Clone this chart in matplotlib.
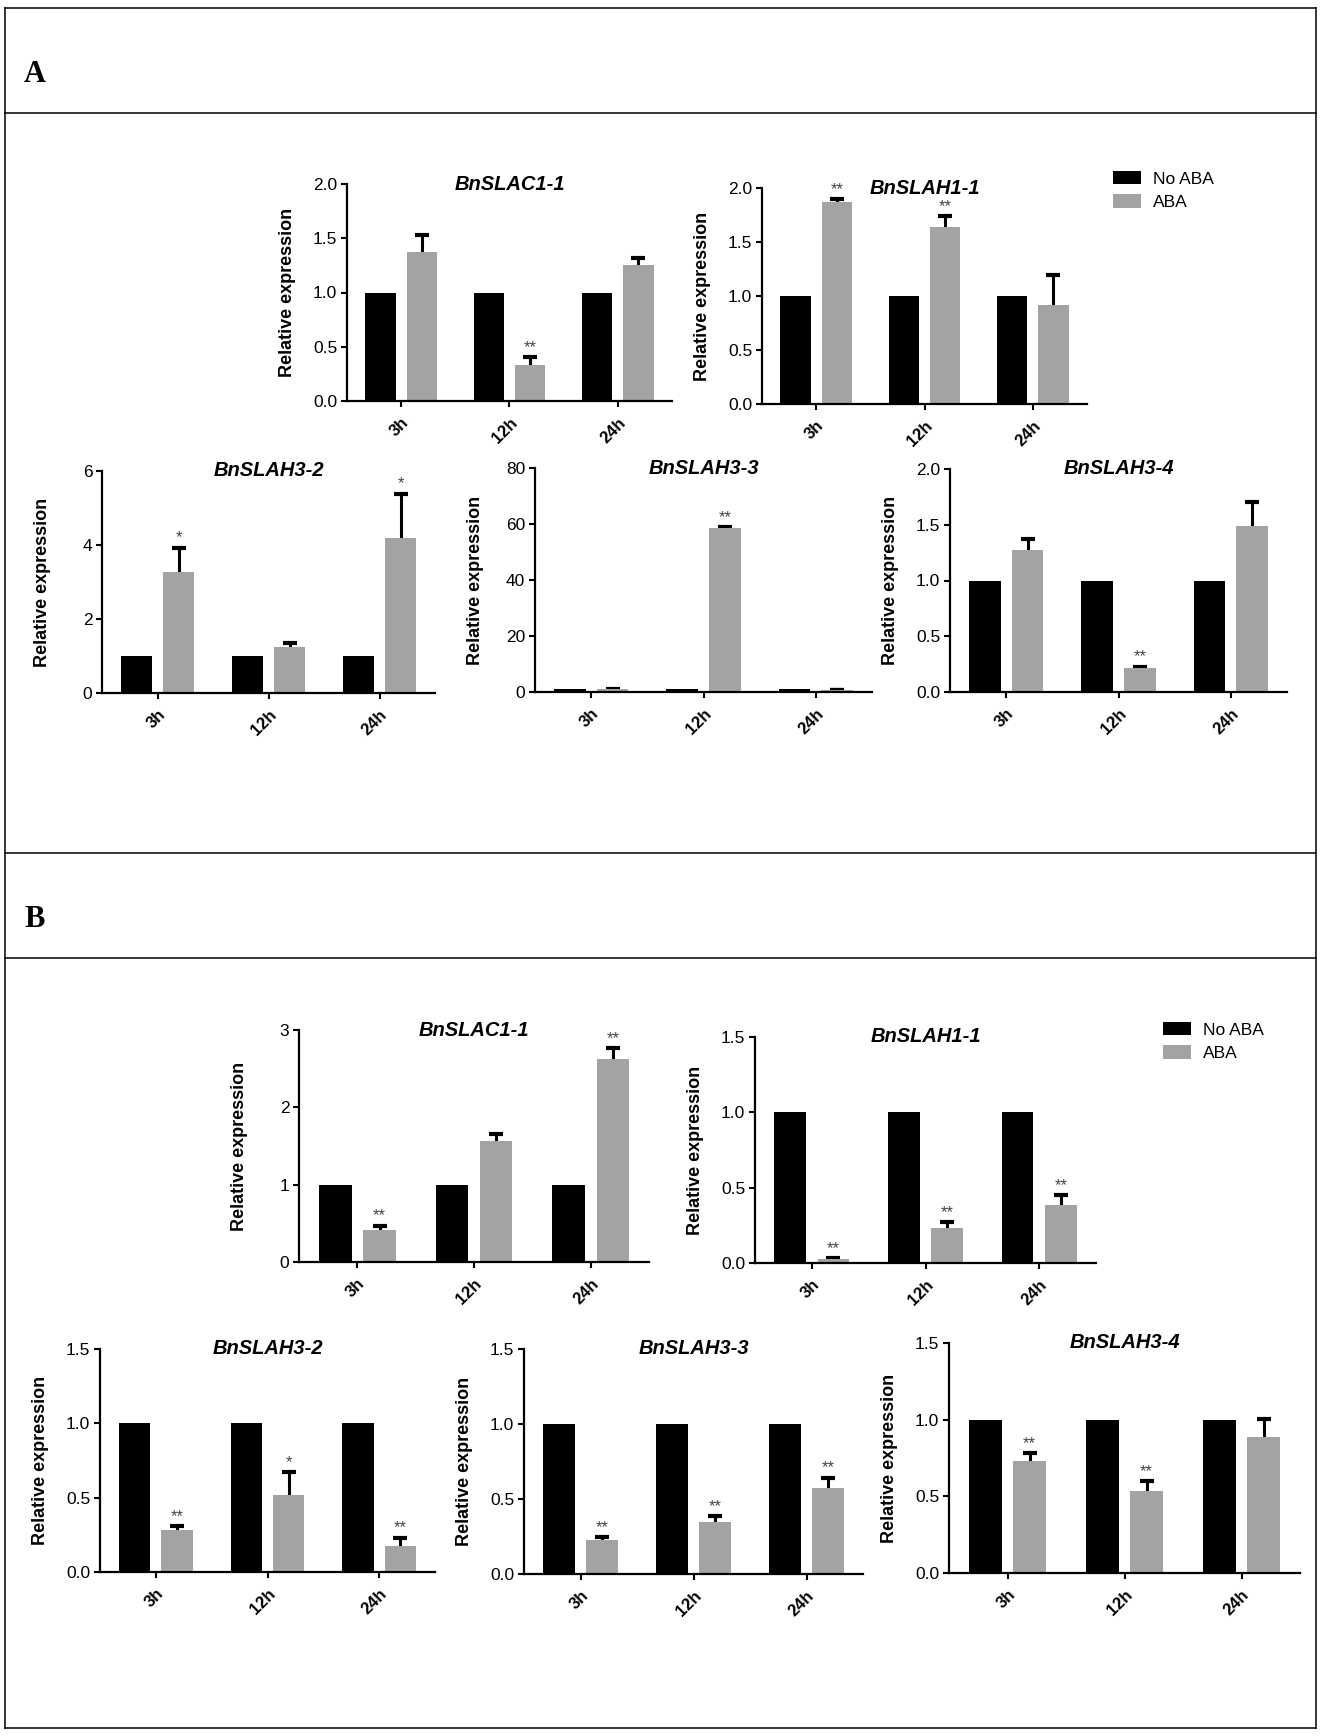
import matplotlib
matplotlib.use("Agg")
import matplotlib.pyplot as plt
from matplotlib.lines import Line2D
import numpy as np

plt.rcParams['font.family'] = ['Liberation Sans', 'DejaVu Sans']

W, H = 1321, 1736
DPI = 100

times = ["3h", "12h", "24h"]
series_names = ["No ABA", "ABA"]

# ---------------- Panel A data ----------------
A_genes = ["BnSLAC1-1", "BnSLAH1-1", "BnSLAH3-2", "BnSLAH3-3", "BnSLAH3-4"]
A_noaba = [[1, 1, 1], [1, 1, 1], [1, 1, 1], [1, 1, 1], [1, 1, 1]]
A_aba = [[1.37, 0.33, 1.25],
         [1.87, 1.64, 0.92],
         [3.26, 1.24, 4.20],
         [0.95, 58.6, 0.8],
         [1.27, 0.215, 1.49]]
A_err = [[0.16, 0.075, 0.07],
         [0.03, 0.10, 0.27],
         [0.67, 0.10, 1.19],
         [0.25, 0.4, 0.0],
         [0.105, 0.012, 0.21]]
A_stars = [["", "**", ""],
           ["**", "**", ""],
           ["*", "", "*"],
           ["", "**", ""],
           ["", "**", ""]]
A_ymax = [2.0, 2.0, 6, 80, 2.0]
A_yticks = [[0.0, 0.5, 1.0, 1.5, 2.0], [0.0, 0.5, 1.0, 1.5, 2.0],
            [0, 2, 4, 6], [0, 20, 40, 60, 80], [0.0, 0.5, 1.0, 1.5, 2.0]]
A_fmt = ["%.1f", "%.1f", "%d", "%d", "%.1f"]

# ---------------- Panel B data ----------------
B_genes = ["BnSLAC1-1", "BnSLAH1-1", "BnSLAH3-2", "BnSLAH3-3", "BnSLAH3-4"]
B_noaba = [[1, 1, 1], [1, 1, 1], [1, 1, 1], [1, 1, 1], [1, 1, 1]]
B_aba = [[0.41, 1.57, 2.62],
         [0.026, 0.23, 0.384],
         [0.28, 0.519, 0.178],
         [0.227, 0.347, 0.571],
         [0.73, 0.535, 0.889]]
B_err = [[0.06, 0.09, 0.15],
         [0.007, 0.04, 0.066],
         [0.028, 0.155, 0.054],
         [0.018, 0.04, 0.071],
         [0.053, 0.065, 0.116]]
B_stars = [["**", "", "**"],
           ["**", "**", "**"],
           ["**", "*", "**"],
           ["**", "**", "**"],
           ["**", "**", ""]]
B_ymax = [3, 1.5, 1.5, 1.5, 1.5]
B_yticks = [[0, 1, 2, 3], [0.0, 0.5, 1.0, 1.5], [0.0, 0.5, 1.0, 1.5],
            [0.0, 0.5, 1.0, 1.5], [0.0, 0.5, 1.0, 1.5]]
B_fmt = ["%d", "%.1f", "%.1f", "%.1f", "%.1f"]

# axes pixel boxes: (x_left, x_right, y_top, y_bottom)
A_boxes = [(347, 672, 184, 401), (762, 1087, 188, 404),
           (102, 435, 471, 693), (535, 872, 468, 692), (950, 1287, 469, 692)]
B_boxes = [(299, 649, 1030, 1262), (755, 1096, 1037, 1263),
           (100, 435, 1349, 1572), (524, 863, 1349, 1574), (949, 1300, 1343, 1573)]

BLACK = "#000000"
GRAY = "#a3a3a6"

fig = plt.figure(figsize=(W / DPI, H / DPI), dpi=DPI)


def add_ax(box):
    x0, x1, yt, yb = box
    return fig.add_axes([x0 / W, 1 - yb / H, (x1 - x0) / W, (yb - yt) / H])


def draw(box, gene, noaba, aba, err, stars, ymax, yticks, fmt):
    ax = add_ax(box)
    x = np.arange(len(times))
    off, bw = 0.19, 0.28
    b1 = ax.bar(x - off, noaba, bw, color=BLACK, label=series_names[0], zorder=2)
    b2 = ax.bar(x + off, aba, bw, color=GRAY, label=series_names[1], zorder=2)
    # symmetric error bars drawn behind the bars: only the upper half shows
    ax.errorbar(x + off, aba, yerr=err, fmt="none",
                ecolor="black", elinewidth=2.2, capsize=5, capthick=3, zorder=1)
    for xi, v, e, s in zip(x, aba, err, stars):
        if s:
            ax.annotate(s, (xi + off, v + e), xytext=(0, 1.5), textcoords="offset points",
                        ha="center", va="bottom", fontsize=12, color="#444444",
                        annotation_clip=False)
    ax.set_xlim(-0.5, 2.5)
    ax.set_ylim(0, ymax)
    ax.set_yticks(yticks)
    ax.set_yticklabels([fmt % t for t in yticks], fontsize=12.5)
    ax.set_xticks(x)
    ax.set_xticklabels(times, fontsize=12, fontweight="bold", rotation=45,
                       ha="right", va="top", rotation_mode="anchor")
    for sp in ["top", "right"]:
        ax.spines[sp].set_visible(False)
    for sp in ["left", "bottom"]:
        ax.spines[sp].set_linewidth(1.6)
    ax.tick_params(axis="both", direction="out", length=4, width=1.5, pad=3)
    ax.tick_params(axis="x", pad=6)
    wpx = box[1] - box[0]
    ax.set_ylabel("Relative expression", fontsize=13, fontweight="bold")
    ax.yaxis.set_label_coords(-51 / wpx, 0.5)
    ax.text(0.5, 1.0, gene, transform=ax.transAxes, ha="center", va="center",
            fontsize=14.5, fontweight="bold", fontstyle="italic")
    return ax, b1, b2


for i in range(5):
    axA, h1, h2 = draw(A_boxes[i], A_genes[i], A_noaba[i], A_aba[i], A_err[i],
                       A_stars[i], A_ymax[i], A_yticks[i], A_fmt[i])
    if i == 1:
        fig.legend([h1, h2], series_names, loc="upper left",
                   bbox_to_anchor=(1106 / W, 1 - 164 / H), frameon=False,
                   fontsize=12.5, handlelength=1.6, handleheight=0.8,
                   handletextpad=0.7, labelspacing=0.45, borderaxespad=0)

for i in range(5):
    axB, h1, h2 = draw(B_boxes[i], B_genes[i], B_noaba[i], B_aba[i], B_err[i],
                       B_stars[i], B_ymax[i], B_yticks[i], B_fmt[i])
    if i == 1:
        fig.legend([h1, h2], series_names, loc="upper left",
                   bbox_to_anchor=(1156 / W, 1 - 1015 / H), frameon=False,
                   fontsize=12.5, handlelength=1.6, handleheight=0.8,
                   handletextpad=0.7, labelspacing=0.45, borderaxespad=0)

# section frames
def hline(y, x0=5, x1=1316):
    fig.add_artist(Line2D([x0 / W, x1 / W], [1 - y / H, 1 - y / H], color="black", lw=1.1))

def vline(x, y0=8, y1=1728):
    fig.add_artist(Line2D([x / W, x / W], [1 - y0 / H, 1 - y1 / H], color="black", lw=1.1))

for y in [8, 113, 853, 958, 1728]:
    hline(y)
vline(5)
vline(1316)

fig.text(24 / W, 1 - 75 / H, "A", fontsize=22, fontweight="bold",
         family=["Liberation Serif", "DejaVu Serif"], ha="left", va="center")
fig.text(24 / W, 1 - 919 / H, "B", fontsize=22, fontweight="bold",
         family=["Liberation Serif", "DejaVu Serif"], ha="left", va="center")

fig.savefig("out.png", dpi=DPI)
